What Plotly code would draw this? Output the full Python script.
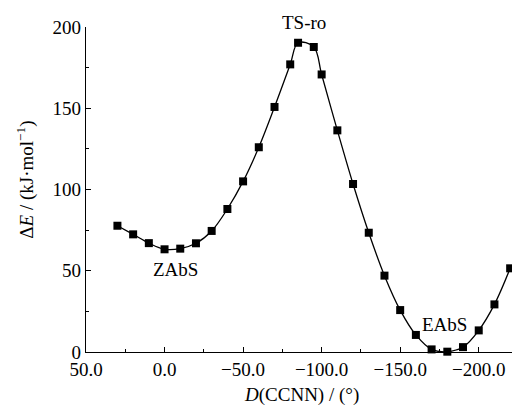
import plotly.graph_objects as go

dihedral = [30, 20, 10, 0, -10, -20, -30, -40, -50, -60, -70, -80, -85, -95, -100,
            -110, -120, -130, -140, -150, -160, -170, -180, -190, -200, -210, -220]
energy = [77.7, 72.4, 67.0, 63.2, 63.6, 66.9, 74.5, 88.0, 105.0, 126.0, 150.8, 177.0, 190.3,
          187.7, 170.8, 136.4, 103.4, 73.4, 47.0, 25.8, 10.5, 1.6, 0.2, 3.0, 13.3, 29.3, 51.5]

labels = ["TS-ro", "ZAbS", "EAbS"]
label_x = [-89, -6.8, -178.3]
label_y = [203, 51, 16.9]

y_max = 200
font = "Liberation Serif, Times New Roman, serif"
fs = 19

fig = go.Figure()
fig.add_trace(go.Scatter(
    x=dihedral, y=energy, mode="lines+markers",
    line=dict(color="black", width=1.3, shape="spline", smoothing=1.0),
    marker=dict(symbol="square", size=8, color="black"),
    showlegend=False, cliponaxis=False,
))

# y in paper units so labels above the axis top are still shown
for t, xx, yy in zip(labels, label_x, label_y):
    fig.add_annotation(x=xx, y=yy / y_max, xref="x", yref="paper", text=t, showarrow=False,
                       xanchor="center", yanchor="middle",
                       font=dict(family=font, size=fs, color="black"))

# axis titles
fig.add_annotation(x=-0.139, y=0.53, xref="paper", yref="paper", textangle=-90,
                   text="Δ<i>E</i> / (kJ·mol<sup>−1</sup>)", showarrow=False,
                   xanchor="center", yanchor="middle", font=dict(family=font, size=fs, color="black"))
fig.add_annotation(x=0.498, y=-0.132, xref="paper", yref="paper",
                   text="<i>D</i>(CCNN) / (°)", showarrow=False,
                   xanchor="center", yanchor="middle", font=dict(family=font, size=fs, color="black"))

# page body has an 8px margin, so the figure is drawn from (8, 8)
fig.update_layout(
    width=512, height=401,
    margin=dict(l=78, r=2, t=19, b=57),
    paper_bgcolor="white", plot_bgcolor="white",
    font=dict(family=font, size=fs, color="black"),
    xaxis=dict(
        range=[50, -225], tickvals=[50, 0, -50, -100, -150, -200],
        tickformat=".1f", ticks="inside", ticklen=5, tickcolor="black",
        minor=dict(tickvals=[25, -25, -75, -125, -175, -225], ticks="inside", ticklen=3, tickcolor="black"),
        showline=True, linecolor="black", linewidth=1.2, showgrid=False, zeroline=False,
    ),
    yaxis=dict(
        range=[0, y_max], tickvals=[0, 50, 100, 150, 200],
        ticks="inside", ticklen=5, tickcolor="black",
        minor=dict(tickvals=[25, 75, 125, 175], ticks="inside", ticklen=3, tickcolor="black"),
        showline=True, linecolor="black", linewidth=1.2, showgrid=False, zeroline=False,
    ),
)

fig.write_html("out.html")
